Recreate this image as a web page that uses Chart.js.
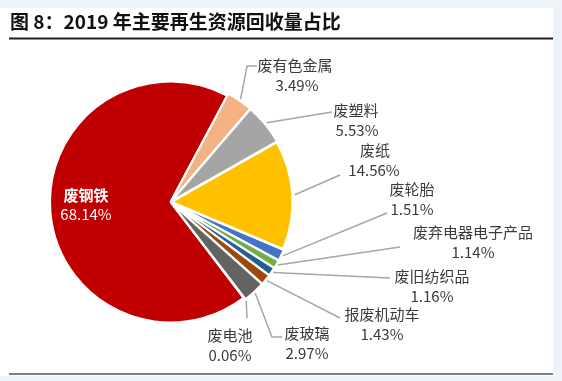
<!DOCTYPE html>
<html>
<head>
<meta charset="utf-8">
<script src="https://cdn.jsdelivr.net/npm/chart.js@4.4.1/dist/chart.umd.min.js"></script>
<style>
html,body{margin:0;padding:0;background:#eef3f9;}
#wrap{position:absolute;left:0;top:0;width:562px;height:381px;}
canvas{display:block;}
</style>
</head>
<body>
<div id="wrap"><canvas id="c" width="562" height="381"></canvas></div>
<script>
// ---- data ----
const titleText = '图 8：2019 年主要再生资源回收量占比';
const categories = ['废钢铁', '废有色金属', '废塑料', '废纸', '废轮胎', '废弃电器电子产品', '废旧纺织品', '报废机动车', '废玻璃', '废电池'];
const shares = [68.14, 3.49, 5.53, 14.56, 1.51, 1.14, 1.16, 1.43, 2.97, 0.06];
const sliceColors = ['#C00000', '#F4B183', '#A5A5A5', '#FFC000', '#4472C4', '#70AD47', '#255E91', '#9E480E', '#636363', '#997300'];

// ---- label layout (text centres and leader bend points) ----
const labelLayout = [
  {inside: true, x: 86, y: 195},
  {x: 295, y: 65, vx: 297, leader: [[247, 66], [257, 66]]},
  {x: 356, y: 110, vx: 357, leader: [[332, 112]]},
  {x: 375, y: 150, vx: 374, leader: [[340, 175]]},
  {x: 412, y: 189, vx: 412, leader: [[387, 213]]},
  {x: 473, y: 232, vx: 473, leader: [[400, 247]]},
  {x: 432, y: 276, vx: 432, leader: [[390, 278]]},
  {x: 382, y: 314, vx: 382, leader: [[340, 318]]},
  {x: 307, y: 333, vx: 307, leader: [[272, 337], [282, 337]]},
  {x: 230, y: 335, vx: 230, leader: [[247, 318]]}
];

const FONT = '"Noto Sans CJK SC", "Noto Sans", sans-serif';

const pagePlugin = {
  id: 'page',
  beforeDraw(chart) {
    const ctx = chart.ctx;
    ctx.save();
    ctx.fillStyle = '#eef3f9';
    ctx.fillRect(0, 0, 562, 381);
    ctx.fillStyle = '#ffffff';
    ctx.fillRect(0, 8, 553, 368);
    // title
    ctx.fillStyle = '#111111';
    ctx.font = 'bold 19px ' + FONT;
    ctx.textBaseline = 'middle';
    ctx.textAlign = 'left';
    ctx.fillText(titleText, 10, 22);
    // rules
    ctx.strokeStyle = '#222222';
    ctx.lineWidth = 2;
    ctx.beginPath(); ctx.moveTo(9, 38.5); ctx.lineTo(553, 38.5); ctx.stroke();
    ctx.strokeStyle = '#555555';
    ctx.lineWidth = 1.5;
    ctx.beginPath(); ctx.moveTo(9, 374); ctx.lineTo(553, 374); ctx.stroke();
    ctx.restore();
  },
  afterDatasetsDraw(chart) {
    const ctx = chart.ctx;
    const meta = chart.getDatasetMeta(0);
    const offsets = chart.data.datasets[0].offset;
    ctx.save();
    meta.data.forEach((arc, i) => {
      const lay = labelLayout[i];
      const val = shares[i].toFixed(2) + '%';
      const mid = (arc.startAngle + arc.endAngle) / 2;
      if (lay.inside) {
        ctx.fillStyle = '#ffffff';
        ctx.textAlign = 'center';
        ctx.textBaseline = 'middle';
        ctx.font = 'bold 15px ' + FONT;
        ctx.fillText(categories[i], lay.x, lay.y);
        ctx.font = '15px ' + FONT;
        ctx.fillText(val, lay.x, lay.y + 19);
        return;
      }
      const r = arc.outerRadius + offsets[i] - 1;
      const sx = arc.x + Math.cos(mid) * r;
      const sy = arc.y + Math.sin(mid) * r;
      ctx.strokeStyle = '#a6a6a6';
      ctx.lineWidth = 1.5;
      ctx.beginPath();
      ctx.moveTo(sx, sy);
      lay.leader.forEach(p => ctx.lineTo(p[0], p[1]));
      ctx.stroke();
      ctx.fillStyle = '#3a3a3a';
      ctx.textAlign = 'center';
      ctx.textBaseline = 'middle';
      ctx.font = '15px ' + FONT;
      ctx.fillText(categories[i], lay.x, lay.y);
      ctx.fillText(val, lay.vx, lay.y + 20);
    });
    ctx.restore();
  }
};

const total = shares.reduce((a, b) => a + b, 0);
const startDeg = 28 + (total - shares[0]) / total * 360; // red slice begins here

new Chart(document.getElementById('c'), {
  type: 'pie',
  data: {
    labels: categories,
    datasets: [{
      data: shares,
      backgroundColor: sliceColors,
      borderColor: '#ffffff',
      borderWidth: 2,
      offset: [0, 5, 5, 5, 5, 5, 5, 5, 5, 5]
    }]
  },
  options: {
    responsive: false,
    devicePixelRatio: 1,
    animation: false,
    rotation: startDeg,
    layout: {padding: {left: 46, right: 267, top: 78, bottom: 55}},
    plugins: {legend: {display: false}, tooltip: {enabled: false}, title: {display: false}}
  },
  plugins: [pagePlugin]
});
</script>
</body>
</html>
